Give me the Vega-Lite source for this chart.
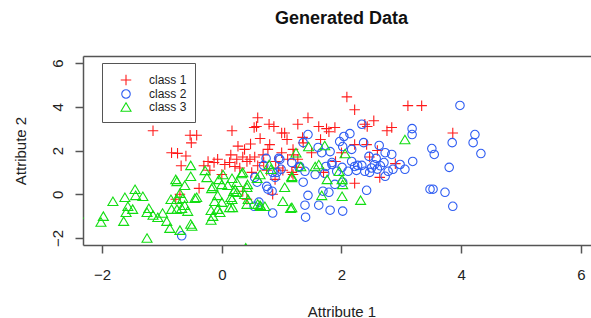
{
  "$schema": "https://vega.github.io/schema/vega-lite/v6.json",
  "width": 508,
  "height": 189,
  "autosize": {"type": "none"},
  "padding": {"left": 83, "top": 56, "right": 0, "bottom": 73},
  "background": "white",
  "title": {"text": "Generated Data", "font": "Liberation Sans", "fontSize": 18, "fontWeight": "bold", "color": "#111", "anchor": "middle", "baseline": "alphabetic", "offset": 14, "dx": 4.5},
  "config": {
    "view": {"stroke": null},
    "axis": {"grid": false, "domainColor": "#555", "domainWidth": 1.5, "tickColor": "#555", "tickWidth": 1.5, "tickSize": 8, "labelFont": "Liberation Sans", "labelFontSize": 15, "labelColor": "#222", "titleFont": "Liberation Sans", "titleFontSize": 15, "titleFontWeight": "normal", "titleColor": "#222"}
  },
  "layer": [
    {
      "data": {"values": [
        {"a1": -1.15, "a2": 2.9, "class": "class 1"},
        {"a1": -0.53, "a2": 2.7, "class": "class 1"},
        {"a1": -0.42, "a2": 2.7, "class": "class 1"},
        {"a1": -0.51, "a2": 2.35, "class": "class 1"},
        {"a1": -0.84, "a2": 1.9, "class": "class 1"},
        {"a1": -0.74, "a2": 1.87, "class": "class 1"},
        {"a1": -0.6, "a2": 1.75, "class": "class 1"},
        {"a1": -0.68, "a2": 1.3, "class": "class 1"},
        {"a1": -0.38, "a2": 0.27, "class": "class 1"},
        {"a1": -0.77, "a2": -0.23, "class": "class 1"},
        {"a1": -0.7, "a2": 0.0, "class": "class 1"},
        {"a1": 0.17, "a2": 2.9, "class": "class 1"},
        {"a1": 0.6, "a2": 3.5, "class": "class 1"},
        {"a1": 0.54, "a2": 3.05, "class": "class 1"},
        {"a1": 0.79, "a2": 3.2, "class": "class 1"},
        {"a1": 0.87, "a2": 3.1, "class": "class 1"},
        {"a1": 1.0, "a2": 2.8, "class": "class 1"},
        {"a1": 0.64, "a2": 2.55, "class": "class 1"},
        {"a1": 0.27, "a2": 2.2, "class": "class 1"},
        {"a1": 0.48, "a2": 2.3, "class": "class 1"},
        {"a1": 0.38, "a2": 2.05, "class": "class 1"},
        {"a1": 0.69, "a2": 1.8, "class": "class 1"},
        {"a1": 0.77, "a2": 2.05, "class": "class 1"},
        {"a1": 0.8, "a2": 2.27, "class": "class 1"},
        {"a1": 0.25, "a2": 1.6, "class": "class 1"},
        {"a1": 0.35, "a2": 1.7, "class": "class 1"},
        {"a1": 0.42, "a2": 1.5, "class": "class 1"},
        {"a1": 0.47, "a2": 1.6, "class": "class 1"},
        {"a1": 0.55, "a2": 1.7, "class": "class 1"},
        {"a1": -0.07, "a2": 1.6, "class": "class 1"},
        {"a1": -0.13, "a2": 1.45, "class": "class 1"},
        {"a1": -0.23, "a2": 1.5, "class": "class 1"},
        {"a1": 0.05, "a2": 1.36, "class": "class 1"},
        {"a1": 0.13, "a2": 1.45, "class": "class 1"},
        {"a1": 2.09, "a2": 4.45, "class": "class 1"},
        {"a1": 2.22, "a2": 3.86, "class": "class 1"},
        {"a1": 1.44, "a2": 3.5, "class": "class 1"},
        {"a1": 1.27, "a2": 3.2, "class": "class 1"},
        {"a1": 1.62, "a2": 3.1, "class": "class 1"},
        {"a1": 1.79, "a2": 2.86, "class": "class 1"},
        {"a1": 1.89, "a2": 3.05, "class": "class 1"},
        {"a1": 2.39, "a2": 3.2, "class": "class 1"},
        {"a1": 1.05, "a2": 2.8, "class": "class 1"},
        {"a1": 1.09, "a2": 2.5, "class": "class 1"},
        {"a1": 1.35, "a2": 2.6, "class": "class 1"},
        {"a1": 1.19, "a2": 2.05, "class": "class 1"},
        {"a1": 2.22, "a2": 2.27, "class": "class 1"},
        {"a1": 2.42, "a2": 2.27, "class": "class 1"},
        {"a1": 1.36, "a2": 2.35, "class": "class 1"},
        {"a1": 1.27, "a2": 1.6, "class": "class 1"},
        {"a1": 3.11, "a2": 4.05, "class": "class 1"},
        {"a1": 3.34, "a2": 4.05, "class": "class 1"},
        {"a1": 2.54, "a2": 3.36, "class": "class 1"},
        {"a1": 2.43, "a2": 3.1, "class": "class 1"},
        {"a1": 2.84, "a2": 3.05, "class": "class 1"},
        {"a1": 2.76, "a2": 2.9, "class": "class 1"},
        {"a1": 3.86, "a2": 2.8, "class": "class 1"},
        {"a1": 2.47, "a2": 1.7, "class": "class 1"},
        {"a1": 2.64, "a2": 0.77, "class": "class 1"},
        {"a1": 1.19, "a2": 0.9, "class": "class 1"},
        {"a1": 1.02, "a2": 1.1, "class": "class 1"},
        {"a1": 2.22, "a2": 0.5, "class": "class 1"},
        {"a1": 0.22, "a2": 1.27, "class": "class 1"},
        {"a1": 0.35, "a2": 0.14, "class": "class 1"},
        {"a1": 0.42, "a2": -0.23, "class": "class 1"},
        {"a1": 0.85, "a2": 0.0, "class": "class 1"},
        {"a1": 0.89, "a2": 0.68, "class": "class 1"},
        {"a1": 1.75, "a2": 3.0, "class": "class 1"},
        {"a1": 1.17, "a2": 1.0, "class": "class 1"},
        {"a1": 1.25, "a2": 1.23, "class": "class 1"},
        {"a1": 1.2, "a2": 1.8, "class": "class 1"},
        {"a1": 0.6, "a2": 1.3, "class": "class 1"},
        {"a1": 0.7, "a2": 1.45, "class": "class 1"},
        {"a1": 0.9, "a2": 1.5, "class": "class 1"},
        {"a1": 1.0, "a2": 1.9, "class": "class 1"},
        {"a1": 0.95, "a2": 1.2, "class": "class 1"},
        {"a1": 0.5, "a2": 1.0, "class": "class 1"},
        {"a1": 0.3, "a2": 1.2, "class": "class 1"},
        {"a1": 0.75, "a2": 1.1, "class": "class 1"},
        {"a1": 1.1, "a2": 1.6, "class": "class 1"},
        {"a1": 0.15, "a2": 1.8, "class": "class 1"},
        {"a1": -0.2, "a2": 1.1, "class": "class 1"},
        {"a1": -0.3, "a2": 1.3, "class": "class 1"},
        {"a1": 0.0, "a2": 0.9, "class": "class 1"},
        {"a1": 1.5, "a2": 1.9, "class": "class 1"},
        {"a1": 1.65, "a2": 2.5, "class": "class 1"},
        {"a1": 2.0, "a2": 1.9, "class": "class 1"},
        {"a1": 1.9, "a2": 1.5, "class": "class 1"},
        {"a1": 2.6, "a2": 2.0, "class": "class 1"},
        {"a1": 2.9, "a2": 1.4, "class": "class 1"},
        {"a1": 1.7, "a2": 1.0, "class": "class 1"},
        {"a1": 0.58, "a2": 3.1, "class": "class 1"},
        {"a1": 2.34, "a2": 3.2, "class": "class 2"},
        {"a1": 3.18, "a2": 3.0, "class": "class 2"},
        {"a1": 3.18, "a2": 2.73, "class": "class 2"},
        {"a1": 4.23, "a2": 2.73, "class": "class 2"},
        {"a1": 4.2, "a2": 2.36, "class": "class 2"},
        {"a1": 3.85, "a2": 2.36, "class": "class 2"},
        {"a1": 4.33, "a2": 1.86, "class": "class 2"},
        {"a1": 3.51, "a2": 2.09, "class": "class 2"},
        {"a1": 3.55, "a2": 1.82, "class": "class 2"},
        {"a1": 3.8, "a2": 1.23, "class": "class 2"},
        {"a1": 3.53, "a2": 0.23, "class": "class 2"},
        {"a1": 3.48, "a2": 0.23, "class": "class 2"},
        {"a1": 3.73, "a2": 0.09, "class": "class 2"},
        {"a1": 3.86, "a2": -0.55, "class": "class 2"},
        {"a1": 3.19, "a2": 1.5, "class": "class 2"},
        {"a1": 3.06, "a2": 1.14, "class": "class 2"},
        {"a1": 2.98, "a2": 1.36, "class": "class 2"},
        {"a1": 2.86, "a2": 1.14, "class": "class 2"},
        {"a1": 2.84, "a2": 1.82, "class": "class 2"},
        {"a1": 2.73, "a2": 1.9, "class": "class 2"},
        {"a1": 2.63, "a2": 2.23, "class": "class 2"},
        {"a1": 2.71, "a2": 1.45, "class": "class 2"},
        {"a1": 2.78, "a2": 1.05, "class": "class 2"},
        {"a1": 2.73, "a2": 0.82, "class": "class 2"},
        {"a1": 2.58, "a2": 1.64, "class": "class 2"},
        {"a1": 2.46, "a2": 1.73, "class": "class 2"},
        {"a1": 2.47, "a2": 1.0, "class": "class 2"},
        {"a1": 2.37, "a2": 2.36, "class": "class 2"},
        {"a1": 2.42, "a2": 0.18, "class": "class 2"},
        {"a1": 2.14, "a2": 2.77, "class": "class 2"},
        {"a1": 2.04, "a2": 2.64, "class": "class 2"},
        {"a1": 1.97, "a2": 2.41, "class": "class 2"},
        {"a1": 2.02, "a2": 2.18, "class": "class 2"},
        {"a1": 2.17, "a2": 1.5, "class": "class 2"},
        {"a1": 2.22, "a2": 1.27, "class": "class 2"},
        {"a1": 2.27, "a2": 1.32, "class": "class 2"},
        {"a1": 2.34, "a2": 1.32, "class": "class 2"},
        {"a1": 2.25, "a2": 1.09, "class": "class 2"},
        {"a1": 2.11, "a2": 1.05, "class": "class 2"},
        {"a1": 2.01, "a2": 1.23, "class": "class 2"},
        {"a1": 1.84, "a2": 1.45, "class": "class 2"},
        {"a1": 1.74, "a2": 1.27, "class": "class 2"},
        {"a1": 1.67, "a2": 1.9, "class": "class 2"},
        {"a1": 1.61, "a2": 2.14, "class": "class 2"},
        {"a1": 1.44, "a2": 2.73, "class": "class 2"},
        {"a1": 1.36, "a2": 2.36, "class": "class 2"},
        {"a1": 1.39, "a2": 1.05, "class": "class 2"},
        {"a1": 1.56, "a2": 0.9, "class": "class 2"},
        {"a1": 1.36, "a2": 0.55, "class": "class 2"},
        {"a1": 1.44, "a2": -0.05, "class": "class 2"},
        {"a1": 1.39, "a2": -0.5, "class": "class 2"},
        {"a1": 1.4, "a2": -1.05, "class": "class 2"},
        {"a1": 1.62, "a2": -0.5, "class": "class 2"},
        {"a1": 1.69, "a2": 0.14, "class": "class 2"},
        {"a1": 1.79, "a2": 0.09, "class": "class 2"},
        {"a1": 1.81, "a2": -0.73, "class": "class 2"},
        {"a1": 2.02, "a2": -0.77, "class": "class 2"},
        {"a1": 1.89, "a2": 0.45, "class": "class 2"},
        {"a1": 2.02, "a2": 0.55, "class": "class 2"},
        {"a1": 1.81, "a2": 1.95, "class": "class 2"},
        {"a1": 1.92, "a2": 1.05, "class": "class 2"},
        {"a1": 2.17, "a2": 2.05, "class": "class 2"},
        {"a1": 2.39, "a2": 1.05, "class": "class 2"},
        {"a1": 1.72, "a2": 0.95, "class": "class 2"},
        {"a1": 1.84, "a2": 1.36, "class": "class 2"},
        {"a1": 1.3, "a2": 1.27, "class": "class 2"},
        {"a1": 1.17, "a2": 1.45, "class": "class 2"},
        {"a1": 0.7, "a2": 1.32, "class": "class 2"},
        {"a1": 0.85, "a2": 1.0, "class": "class 2"},
        {"a1": 0.92, "a2": 1.0, "class": "class 2"},
        {"a1": 0.89, "a2": 0.77, "class": "class 2"},
        {"a1": 0.84, "a2": 0.14, "class": "class 2"},
        {"a1": 0.75, "a2": 0.36, "class": "class 2"},
        {"a1": 0.59, "a2": 0.55, "class": "class 2"},
        {"a1": 0.55, "a2": 0.77, "class": "class 2"},
        {"a1": 0.62, "a2": -0.36, "class": "class 2"},
        {"a1": 0.54, "a2": -0.55, "class": "class 2"},
        {"a1": 0.85, "a2": -0.86, "class": "class 2"},
        {"a1": 0.99, "a2": 1.14, "class": "class 2"},
        {"a1": 0.74, "a2": 1.64, "class": "class 2"},
        {"a1": 0.95, "a2": 1.64, "class": "class 2"},
        {"a1": -0.67, "a2": -1.9, "class": "class 2"},
        {"a1": 0.97, "a2": 1.59, "class": "class 2"},
        {"a1": 0.77, "a2": 0.23, "class": "class 2"},
        {"a1": 1.29, "a2": 1.23, "class": "class 2"},
        {"a1": 3.98, "a2": 4.06, "class": "class 2"},
        {"a1": 2.5, "a2": 1.2, "class": "class 2"},
        {"a1": 2.6, "a2": 1.15, "class": "class 2"},
        {"a1": 2.55, "a2": 1.35, "class": "class 2"},
        {"a1": 2.65, "a2": 1.3, "class": "class 2"},
        {"a1": -2.02, "a2": -1.27, "class": "class 3"},
        {"a1": -1.98, "a2": -1.0, "class": "class 3"},
        {"a1": -1.82, "a2": -0.32, "class": "class 3"},
        {"a1": -1.62, "a2": -0.14, "class": "class 3"},
        {"a1": -1.45, "a2": 0.23, "class": "class 3"},
        {"a1": -1.44, "a2": -0.05, "class": "class 3"},
        {"a1": -1.32, "a2": -0.09, "class": "class 3"},
        {"a1": -1.57, "a2": -0.55, "class": "class 3"},
        {"a1": -1.6, "a2": -0.82, "class": "class 3"},
        {"a1": -1.64, "a2": -1.23, "class": "class 3"},
        {"a1": -1.49, "a2": -0.68, "class": "class 3"},
        {"a1": -1.25, "a2": -0.82, "class": "class 3"},
        {"a1": -1.22, "a2": -0.64, "class": "class 3"},
        {"a1": -1.15, "a2": -0.95, "class": "class 3"},
        {"a1": -1.07, "a2": -1.05, "class": "class 3"},
        {"a1": -0.99, "a2": -0.86, "class": "class 3"},
        {"a1": -0.92, "a2": -1.23, "class": "class 3"},
        {"a1": -0.87, "a2": -1.55, "class": "class 3"},
        {"a1": -0.7, "a2": -1.64, "class": "class 3"},
        {"a1": -1.25, "a2": -2.0, "class": "class 3"},
        {"a1": -0.5, "a2": -1.45, "class": "class 3"},
        {"a1": -0.84, "a2": -0.68, "class": "class 3"},
        {"a1": -0.75, "a2": -0.68, "class": "class 3"},
        {"a1": -0.67, "a2": -0.64, "class": "class 3"},
        {"a1": -0.57, "a2": -0.77, "class": "class 3"},
        {"a1": -0.62, "a2": -0.5, "class": "class 3"},
        {"a1": -0.85, "a2": -0.23, "class": "class 3"},
        {"a1": -0.75, "a2": -0.23, "class": "class 3"},
        {"a1": -0.65, "a2": -0.18, "class": "class 3"},
        {"a1": -0.45, "a2": -0.18, "class": "class 3"},
        {"a1": -0.7, "a2": 0.05, "class": "class 3"},
        {"a1": -0.75, "a2": 0.59, "class": "class 3"},
        {"a1": -0.62, "a2": 0.41, "class": "class 3"},
        {"a1": -0.52, "a2": 0.82, "class": "class 3"},
        {"a1": -0.52, "a2": 1.32, "class": "class 3"},
        {"a1": -0.28, "a2": 1.09, "class": "class 3"},
        {"a1": -0.25, "a2": 0.77, "class": "class 3"},
        {"a1": -0.17, "a2": 0.27, "class": "class 3"},
        {"a1": -0.18, "a2": -0.73, "class": "class 3"},
        {"a1": -0.15, "a2": -1.0, "class": "class 3"},
        {"a1": -0.18, "a2": -1.18, "class": "class 3"},
        {"a1": -0.03, "a2": -0.82, "class": "class 3"},
        {"a1": 0.0, "a2": -0.36, "class": "class 3"},
        {"a1": -0.07, "a2": -0.05, "class": "class 3"},
        {"a1": 0.0, "a2": 0.45, "class": "class 3"},
        {"a1": -0.05, "a2": 0.68, "class": "class 3"},
        {"a1": 0.02, "a2": 0.9, "class": "class 3"},
        {"a1": 0.1, "a2": 0.41, "class": "class 3"},
        {"a1": 0.17, "a2": 0.73, "class": "class 3"},
        {"a1": 0.17, "a2": -0.23, "class": "class 3"},
        {"a1": 0.22, "a2": 0.23, "class": "class 3"},
        {"a1": 0.18, "a2": -0.6, "class": "class 3"},
        {"a1": 0.25, "a2": 0.09, "class": "class 3"},
        {"a1": 0.35, "a2": 1.0, "class": "class 3"},
        {"a1": 0.42, "a2": 0.32, "class": "class 3"},
        {"a1": 0.44, "a2": -0.23, "class": "class 3"},
        {"a1": 0.42, "a2": -0.45, "class": "class 3"},
        {"a1": 0.59, "a2": 0.73, "class": "class 3"},
        {"a1": 0.64, "a2": -0.5, "class": "class 3"},
        {"a1": 0.72, "a2": -0.55, "class": "class 3"},
        {"a1": 0.79, "a2": 1.36, "class": "class 3"},
        {"a1": 1.02, "a2": -0.32, "class": "class 3"},
        {"a1": 1.05, "a2": 0.32, "class": "class 3"},
        {"a1": 1.15, "a2": -0.64, "class": "class 3"},
        {"a1": 1.17, "a2": 0.82, "class": "class 3"},
        {"a1": 1.24, "a2": 1.9, "class": "class 3"},
        {"a1": 3.06, "a2": 2.5, "class": "class 3"},
        {"a1": 1.45, "a2": 2.18, "class": "class 3"},
        {"a1": 1.72, "a2": 2.23, "class": "class 3"},
        {"a1": 2.06, "a2": 1.86, "class": "class 3"},
        {"a1": 1.56, "a2": 1.27, "class": "class 3"},
        {"a1": 1.62, "a2": 1.36, "class": "class 3"},
        {"a1": 1.32, "a2": 1.27, "class": "class 3"},
        {"a1": 1.76, "a2": 0.68, "class": "class 3"},
        {"a1": 1.96, "a2": 1.05, "class": "class 3"},
        {"a1": 2.01, "a2": 0.68, "class": "class 3"},
        {"a1": 2.02, "a2": 0.45, "class": "class 3"},
        {"a1": 1.67, "a2": -0.05, "class": "class 3"},
        {"a1": 2.01, "a2": -0.09, "class": "class 3"},
        {"a1": 2.32, "a2": -0.27, "class": "class 3"},
        {"a1": 1.17, "a2": -0.6, "class": "class 3"},
        {"a1": 1.17, "a2": 0.77, "class": "class 3"},
        {"a1": -0.42, "a2": -0.14, "class": "class 3"},
        {"a1": -0.15, "a2": 0.36, "class": "class 3"},
        {"a1": -0.12, "a2": -0.32, "class": "class 3"},
        {"a1": -0.07, "a2": -0.68, "class": "class 3"},
        {"a1": 0.15, "a2": -0.14, "class": "class 3"},
        {"a1": 0.2, "a2": 0.14, "class": "class 3"},
        {"a1": 0.25, "a2": 0.55, "class": "class 3"},
        {"a1": 0.13, "a2": -0.6, "class": "class 3"},
        {"a1": 0.33, "a2": 0.95, "class": "class 3"},
        {"a1": 0.38, "a2": 0.0, "class": "class 3"},
        {"a1": 0.43, "a2": 0.45, "class": "class 3"},
        {"a1": 0.64, "a2": 0.9, "class": "class 3"},
        {"a1": 0.82, "a2": 1.14, "class": "class 3"},
        {"a1": 0.6, "a2": -0.45, "class": "class 3"},
        {"a1": 0.65, "a2": -0.55, "class": "class 3"},
        {"a1": -0.77, "a2": 0.68, "class": "class 3"},
        {"a1": -0.52, "a2": -1.36, "class": "class 3"},
        {"a1": -2.4, "a2": -0.9, "class": "class 3"},
        {"a1": 0.4, "a2": -2.45, "class": "class 3"}
      ]},
      "mark": {"type": "point", "filled": false, "size": 100, "strokeWidth": 1.1, "opacity": 1, "clip": true},
      "encoding": {
        "x": {"field": "a1", "type": "quantitative", "scale": {"domain": [-2.32, 6.17], "nice": false, "zero": false},
              "axis": {"orient": "bottom", "values": [-2, 0, 2, 4, 6], "title": "Attribute 1", "labelPadding": 14, "labelAngle": 0, "titleBaseline": "alphabetic", "titlePadding": 34, "titleX": 258.5}},
        "y": {"field": "a2", "type": "quantitative", "scale": {"domain": [-2.32, 6.32], "nice": false, "zero": false},
              "axis": {"values": [-2, 0, 2, 4, 6], "title": "Attribute 2", "labelAngle": -90, "labelAlign": "center", "labelBaseline": "alphabetic", "labelPadding": 12.5, "titleBaseline": "alphabetic", "titlePadding": 25.5}},
        "color": {"field": "class", "type": "nominal", "scale": {"domain": ["class 1", "class 2", "class 3"], "range": ["#ff1a1a", "#2f5df2", "#12dd12"]},
                  "legend": {"title": "\u00a0", "titleFontSize": 3, "titlePadding": 0, "orient": "none", "legendX": 19, "legendY": 7, "padding": 8, "strokeColor": "#555", "fillColor": "white", "symbolSize": 100, "symbolStrokeWidth": 1.1, "symbolOffset": 10, "labelOffset": 17, "labelFont": "Liberation Sans", "labelFontSize": 12, "labelColor": "#222", "rowPadding": -1, "labelExpr": "datum.label + '\u00a0\u00a0\u00a0\u00a0\u00a0\u00a0\u00a0\u00a0\u00a0\u00a0\u00a0\u00a0\u00a0\u00a0\u00a0\u00a0\u00a0'"}},
        "shape": {"field": "class", "type": "nominal", "scale": {"domain": ["class 1", "class 2", "class 3"], "range": ["M-1.05,0H1.05M0,-1.05V1.05", "M-0.85,0A0.85,0.85 0 1,0 0.85,0A0.85,0.85 0 1,0 -0.85,0Z", "M0,-0.85L1,0.85L-1,0.85Z"]},
                  "legend": {"title": "\u00a0", "titleFontSize": 3, "titlePadding": 0, "orient": "none", "legendX": 19, "legendY": 7, "padding": 8, "strokeColor": "#555", "fillColor": "white", "symbolSize": 100, "symbolStrokeWidth": 1.1, "symbolOffset": 10, "labelOffset": 17, "labelFont": "Liberation Sans", "labelFontSize": 12, "labelColor": "#222", "rowPadding": -1, "labelExpr": "datum.label + '\u00a0\u00a0\u00a0\u00a0\u00a0\u00a0\u00a0\u00a0\u00a0\u00a0\u00a0\u00a0\u00a0\u00a0\u00a0\u00a0\u00a0'"}}
      }
    },
    {
      "data": {"values": [{"v": 0}]},
      "mark": {"type": "rule", "opacity": 0},
      "encoding": {
        "x": {"field": "v", "type": "quantitative", "scale": {"domain": [-2.32, 6.17], "nice": false, "zero": false},
              "axis": {"orient": "top", "domain": true, "ticks": false, "labels": false, "title": null, "grid": false}}
      }
    }
  ],
  "resolve": {"axis": {"x": "independent"}}
}
